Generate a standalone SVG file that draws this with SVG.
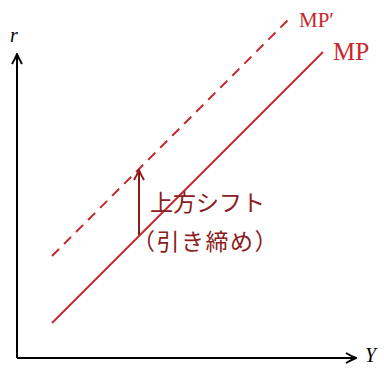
<svg xmlns="http://www.w3.org/2000/svg" width="384" height="368" viewBox="0 0 384 368">
<style>
.axis{stroke:#000;stroke-width:2;fill:none}
.mp{stroke:#c8282d;stroke-width:2;fill:none}
.lbl{font-family:"Liberation Serif",serif;fill:#c8282d}
.ax{font-family:"Liberation Serif",serif;font-style:italic;fill:#000;font-size:20px}
.jp{font-family:"Noto Sans CJK JP",sans-serif;fill:#8b2020;font-size:23px}
</style>
<defs>
<marker id="ah" viewBox="0 0 12 12" refX="11" refY="6" markerWidth="12" markerHeight="12" markerUnits="userSpaceOnUse" orient="auto">
<path d="M1,1 Q6,4 11,6 Q6,8 1,11" fill="none" stroke="#000" stroke-width="2"/>
</marker>
<marker id="ahr" viewBox="0 0 12 12" refX="11" refY="6" markerWidth="12" markerHeight="12" markerUnits="userSpaceOnUse" orient="auto">
<path d="M1,1 Q6,4 11,6 Q6,8 1,11" fill="none" stroke="#8b1a1a" stroke-width="2"/>
</marker>
</defs>
<g id="axes">
<path class="axis" d="M17,358 V54" marker-end="url(#ah)"/>
<path class="axis" d="M17,358 H356" marker-end="url(#ah)"/>
<text class="ax" x="10" y="42">r</text>
<text class="ax" x="365" y="362" font-size="19">Y</text>
</g>
<g id="mp">
<line class="mp" x1="52" y1="323" x2="323" y2="52"/>
<text class="lbl" x="333" y="60" font-size="25">MP</text>
</g>
<g id="mp-prime">
<line class="mp" x1="52" y1="256" x2="290" y2="18" stroke-dasharray="10,7"/>
<text class="lbl" x="299" y="27" font-size="21">MP′</text>
</g>
<g id="connectors">
<line x1="139" y1="235" x2="139" y2="170" stroke="#8b1a1a" stroke-width="2" marker-end="url(#ahr)"/>
</g>
<g id="label">
<text class="jp" x="150" y="211">上方シフト</text>
<text class="jp" x="132" y="250" letter-spacing="1.5">（引き締め）</text>
</g>
</svg>
